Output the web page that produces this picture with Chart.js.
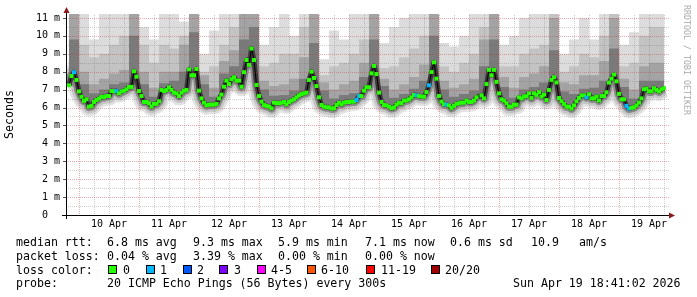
<!DOCTYPE html>
<html><head><meta charset="utf-8">
<script src="https://cdn.jsdelivr.net/npm/chart.js@4/dist/chart.umd.min.js"></script>
<style>
html,body{margin:0;padding:0;background:#fff;}
#wrap{position:relative;width:697px;height:297px;overflow:hidden;font-family:'DejaVu Sans Mono',monospace;}
#c{position:absolute;left:0;top:0;}
.t{position:absolute;font-size:11.6px;line-height:normal;white-space:pre;color:#000;}
.b{position:absolute;width:7px;height:7px;border:1px solid #000;top:265px;}
#rrd{position:absolute;left:692px;top:5px;font-size:8.3px;color:#aaa;white-space:pre;transform-origin:0 0;transform:rotate(90deg);line-height:10px;}
</style></head><body>
<div id="wrap">
<canvas id="c" width="697" height="297"></canvas>
<div id="rrd">RRDTOOL / TOBI OETIKER</div>
<div class="t" style="left:16px;top:235px">median rtt:</div>
<div class="t" style="left:107px;top:235px">6.8 ms avg</div>
<div class="t" style="left:193px;top:235px">9.3 ms max</div>
<div class="t" style="left:278px;top:235px">5.9 ms min</div>
<div class="t" style="left:365px;top:235px">7.1 ms now</div>
<div class="t" style="left:450px;top:235px">0.6 ms sd</div>
<div class="t" style="left:531px;top:235px">10.9</div>
<div class="t" style="left:579px;top:235px">am/s</div>
<div class="t" style="left:16px;top:248.5px">packet loss:</div>
<div class="t" style="left:107px;top:248.5px">0.04 % avg</div>
<div class="t" style="left:193px;top:248.5px">3.39 % max</div>
<div class="t" style="left:278px;top:248.5px">0.00 % min</div>
<div class="t" style="left:365px;top:248.5px">0.00 % now</div>
<div class="t" style="left:16px;top:262.5px">loss color:</div>
<div id="lossLegend"></div>
<div class="t" style="left:16px;top:276px">probe:</div>
<div class="t" style="left:107px;top:276px">20 ICMP Echo Pings (56 Bytes) every 300s</div>
<div class="t" style="left:513px;top:276px">Sun Apr 19 18:41:02 2026</div>
</div>
<script>
// ---- data (x in hours counted from 9 Apr 00:00) ----
const medianStart = 20;
const median = [
7.24,7.76,7.97,7.54,6.90,6.60,6.37,6.46,6.05,6.09,6.31,6.42,6.50,6.60,6.59,6.64,
6.64,6.92,6.90,6.92,6.79,6.90,6.94,7.02,7.15,7.15,8.02,7.72,6.92,6.64,6.31,6.31,
6.24,6.05,6.20,6.20,6.35,6.98,6.92,6.98,7.13,6.98,6.83,6.79,6.64,6.83,6.94,6.98,
8.13,7.80,7.80,8.15,6.94,6.51,6.27,6.12,6.16,6.16,6.16,6.20,6.51,6.72,7.16,7.50,
7.31,7.58,7.69,7.50,7.50,7.16,7.97,8.65,8.38,9.29,8.65,7.26,6.64,6.33,6.14,6.09,
6.05,5.96,6.27,6.24,6.24,6.27,6.31,6.18,6.31,6.39,6.46,6.57,6.68,6.75,6.79,6.83,
7.54,8.00,7.65,7.20,6.57,6.14,6.05,6.01,6.01,5.94,5.96,6.14,6.27,6.18,6.27,6.31,
6.31,6.33,6.33,6.42,6.64,6.64,6.94,7.13,7.13,7.91,8.32,7.87,6.83,6.31,6.14,6.12,
6.05,5.96,6.00,6.16,6.27,6.24,6.39,6.39,6.46,6.57,6.70,6.68,6.64,6.61,6.61,6.86,
7.24,7.98,8.52,7.61,6.64,6.33,6.18,6.16,6.12,5.98,6.09,6.20,6.24,6.27,6.27,6.39,
6.31,6.31,6.39,6.57,null,6.68,6.51,7.31,8.10,7.80,8.10,7.43,6.79,6.46,6.39,6.24,
6.05,6.05,6.16,6.16,6.57,6.50,6.61,6.64,6.79,6.53,6.79,6.70,6.86,6.61,6.72,6.42,
6.98,7.54,7.69,7.40,6.53,6.35,6.20,6.05,6.05,5.94,6.12,6.35,6.53,6.68,6.68,6.57,
6.74,6.51,6.51,6.61,6.39,6.64,6.64,6.85,7.39,7.61,7.84,7.46,6.76,6.46,6.46,6.09,
5.94,5.98,6.01,6.12,6.27,6.51,7.02,7.06,6.90,6.90,7.08,6.98,6.90,7.02,7.08
];
const lossOneHours = [22, 39, 135, 136, 159, 164, 171, 227, 243, 244];
const smokeStart = 20, smokeStep = 4, dataEnd = 258.7;
const smokeHi = [
11.5,11.5,9.8,11.5,11.5,11.5,11.5,10.5,9.8,11.5,
11.5,10.8,11.5,9.0,10.3,11.5,11.5,11.5,11.5,9.5,
10.5,11.5,10.0,11.5,11.5,8.7,10.3,9.8,11.5,11.5,
11.5,9.6,10.5,11.0,11.5,11.5,11.5,9.6,9.4,10.0,
11.5,11.5,11.5,9.5,10.0,11.0,11.5,11.5,11.5,9.0,
9.8,11.0,9.8,11.5,11.5,9.5,10.2,11.5,11.5,11.5];
const smokeMid = [
11.5,9.5,8.8,9.0,9.5,10.0,11.5,9.5,8.5,9.5,
9.3,10.0,11.5,8.0,8.3,9.5,10.5,11.5,11.5,8.3,
8.5,9.0,9.0,10.5,11.5,7.8,8.3,8.5,9.0,9.8,
11.5,8.2,8.3,8.8,9.3,10.0,11.5,8.3,8.0,8.5,
9.0,10.5,11.5,8.3,8.3,9.0,9.3,9.5,11.5,8.0,
8.3,9.0,8.8,10.0,11.5,8.3,8.5,10.0,10.5,10.5];
const smokeDark = [
11.5,8.0,7.3,7.6,7.9,8.1,11.5,8.0,7.1,8.0,
8.0,9.5,11.5,7.8,7.1,8.6,9.2,11.5,11.5,7.5,
7.2,7.3,7.6,8.8,11.5,7.4,7.0,7.3,7.5,8.5,
11.5,7.6,7.0,7.3,7.7,8.4,11.5,7.5,7.1,7.3,
7.6,9.8,11.5,7.7,7.1,7.7,7.9,8.3,11.0,7.4,
7.3,7.8,7.8,8.6,11.0,7.6,7.0,8.3,8.5,8.5];
const smokeCore = [
9.8,7.3,6.8,7.0,7.3,7.4,10.0,7.3,6.6,7.35,
7.5,8.0,10.2,7.3,6.6,7.9,8.3,9.8,10.5,7.0,
6.65,6.7,6.95,7.6,9.6,6.95,6.5,6.7,6.8,7.7,
9.8,7.2,6.55,6.75,7.05,7.5,10.0,7.0,6.6,6.75,
6.95,8.3,9.8,7.15,6.55,7.0,7.15,7.4,9.2,6.9,
6.75,7.05,7.1,7.5,9.3,7.15,6.5,7.5,7.5,7.5];
const yTickValues = [0,0.5,1,1.5,2,2.5,3,3.5,4,4.5,5,5.5,6,6.5,7,7.5,8,8.5,9,9.5,10,10.5,11];
const xGridHours = [];
for (let h = 24; h <= 258; h += 6) xGridHours.push(h);
const xDayLabels = ['10 Apr','11 Apr','12 Apr','13 Apr','14 Apr','15 Apr','16 Apr','17 Apr','18 Apr','19 Apr'];
const lossLabels = ['0','1','2','3','4-5','6-10','11-19','20/20'];
const lossColors = ['#26ff00','#00b8ff','#0059ff','#7e00ff','#ff00ff','#ff5500','#ff0000','#a10000'];

// ---- loss legend (HTML text) ----
const boxX = [108,146,183,219,257,307,366,431];
const labX = [123,160,197,234,271,321,381,445];
const ll = document.getElementById('lossLegend');
lossLabels.forEach((l,i)=>{
  const b=document.createElement('div'); b.className='b'; b.style.left=boxX[i]+'px'; b.style.background=lossColors[i]; ll.appendChild(b);
  const t=document.createElement('div'); t.className='t'; t.style.left=labX[i]+'px'; t.style.top='262.5px'; t.textContent=l; ll.appendChild(t);
});

// ---- chart ----
const medPts = median.map((v,i)=>({x: medianStart+i, y: v}));
const smokePts = arr => arr.map((v,i)=>({x: smokeStart+smokeStep*i, y: v})).concat([{x: dataEnd, y: arr[arr.length-1]}]);
const FONT = "'DejaVu Sans Mono', monospace";
const none = 'rgba(0,0,0,0)';
const MAJOR = 'rgba(205,40,40,0.38)', MINOR = 'rgba(110,110,110,0.34)';

function stroke(color, w, order){
  return {data: medPts, borderColor: color, borderWidth: w, pointRadius: 0, fill: false,
    tension: 0, spanGaps: true, borderJoinStyle: 'round', order, clip: 0};
}
function smoke(arr, color, order){
  return {data: smokePts(arr), borderColor: none, borderWidth: 0, backgroundColor: color,
    pointRadius: 0, stepped: true, fill: 0, order, clip: 0};
}

// dotted rrdtool-style grid, drawn over the smoke and under the median line
const gridDots = {
  id: 'gridDots',
  beforeDatasetDraw(chart, args){
    if (args.index !== 0) return;
    const {ctx, chartArea: a, scales: {x, y}} = chart;
    const L = Math.round(a.left), R = Math.round(a.right), T = Math.round(a.top), B = Math.round(a.bottom);
    ctx.save();
    xGridHours.forEach(h => {
      const px = Math.round(x.getPixelForValue(h));
      ctx.fillStyle = h % 24 === 0 ? MAJOR : MINOR;
      for (let yy = T + 1; yy < B; yy += 2) ctx.fillRect(px, yy, 1, 1);
    });
    yTickValues.forEach(v => {
      if (v === 0) return;
      const py = Math.round(y.getPixelForValue(v));
      ctx.fillStyle = Number.isInteger(v) ? MAJOR : MINOR;
      for (let xx = L + 1; xx < R; xx += 2) ctx.fillRect(xx, py, 1, 1);
    });
    ctx.restore();
  },
  afterDraw(chart){
    const {ctx, chartArea: a, scales: {y}} = chart;
    const x0 = a.left - 0.5, y0 = a.bottom + 0.5;
    ctx.save();
    ctx.fillStyle = '#555';
    yTickValues.forEach(v => { if (Number.isInteger(v) && v > 0) ctx.fillRect(a.left - 4, Math.round(y.getPixelForValue(v)), 3, 1); });
    ctx.strokeStyle = '#000'; ctx.lineWidth = 1;
    ctx.beginPath();
    ctx.moveTo(a.left - 5, y0); ctx.lineTo(a.right, y0);
    ctx.moveTo(x0, a.bottom + 4); ctx.lineTo(x0, a.top - 1);
    ctx.stroke();
    ctx.fillStyle = '#8b1a1a';
    ctx.beginPath(); ctx.moveTo(x0-3, a.top-1); ctx.lineTo(x0+3, a.top-1); ctx.lineTo(x0, a.top-7); ctx.closePath(); ctx.fill();
    ctx.beginPath(); ctx.moveTo(a.right, y0-3); ctx.lineTo(a.right, y0+3); ctx.lineTo(a.right+6, y0); ctx.closePath(); ctx.fill();
    ctx.restore();
  }
};

new Chart(document.getElementById('c'), {
  type: 'line',
  data: { datasets: [
    {data: medPts, borderColor: '#000', borderWidth: 1, tension: 0, spanGaps: true, fill: false, order: 0,
     pointStyle: 'rect', pointRadius: 2.8, pointBorderWidth: 0, pointBorderColor: none,
     pointBackgroundColor: c => (c.raw && lossOneHours.includes(c.raw.x)) ? lossColors[1] : lossColors[0]},
    stroke('#3a3a3a', 5, 1),
    smoke(smokeCore, '#7a7a7a', 2),
    smoke(smokeDark, '#a3a3a3', 3),
    smoke(smokeMid, '#c3c3c3', 4),
    smoke(smokeHi, '#dcdcdc', 5),
    stroke('#8a8a8a', 9, 6),
    stroke('#c6c6c6', 14, 7),
    stroke('#e2e2e2', 19, 8)
  ]},
  options: {
    responsive: false, animation: false, devicePixelRatio: 1,
    layout: {padding: {left: 0, right: 28, top: 14, bottom: 62}},
    plugins: {legend: {display: false}, tooltip: {enabled: false}},
    scales: {
      x: {
        type: 'linear', min: 19.2, max: 260,
        afterBuildTicks: s => { s.ticks = xGridHours.map(h => ({value: h})); },
        afterFit: s => { s.height = 20; },
        ticks: {autoSkip: false, maxRotation: 0, minRotation: 0, padding: 3, color: '#000',
          font: {family: FONT, size: 10},
          callback: v => (v % 24 === 12) ? xDayLabels[(v - 36) / 24] : ''},
        grid: {display: false, drawTicks: false},
        border: {display: false}
      },
      y: {
        type: 'linear', min: 0, max: 11.22,
        afterBuildTicks: s => { s.ticks = yTickValues.map(v => ({value: v})); },
        afterFit: s => { s.width = 67; },
        ticks: {autoSkip: false, padding: 7, color: '#000', font: {family: FONT, size: 10},
          callback: v => Number.isInteger(v) ? (v === 0 ? '0  ' : v + ' m') : ''},
        grid: {display: false, drawTicks: false},
        border: {display: false},
        title: {display: true, text: 'Seconds', color: '#000', font: {family: FONT, size: 11.6}, padding: {top: 3, bottom: 0}}
      }
    }
  },
  plugins: [gridDots]
});
</script>
</body></html>
